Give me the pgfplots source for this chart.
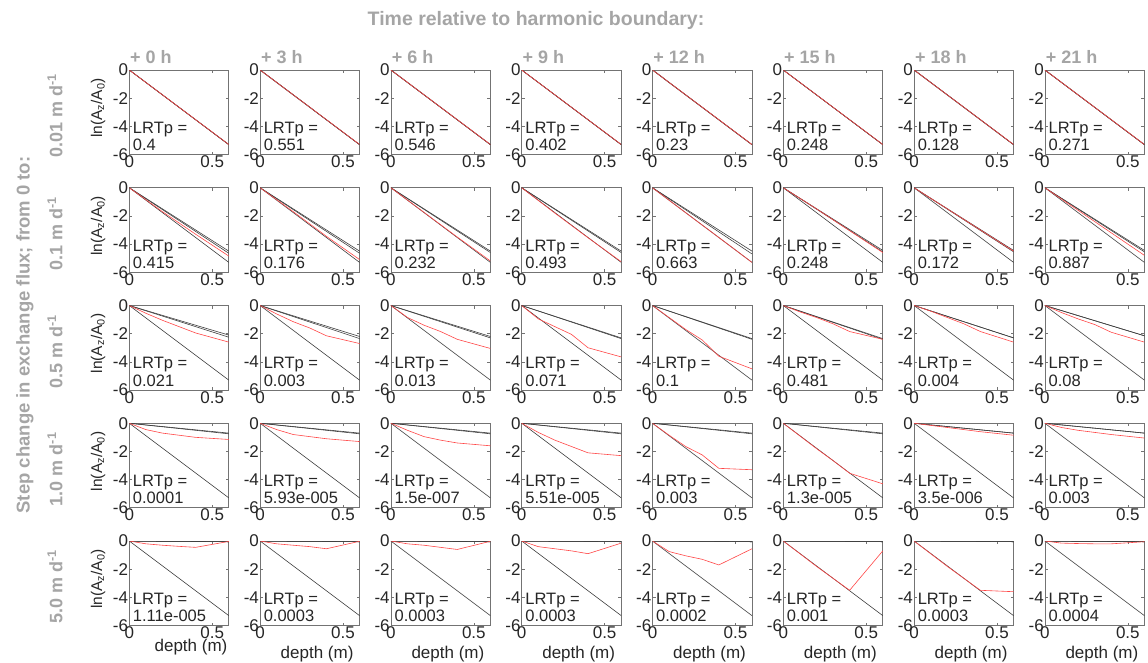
\documentclass[border=0pt]{standalone}
\usepackage{fontspec}
\setmainfont{Liberation Sans}
\usepackage{pgfplots}
\pgfplotsset{compat=1.18}
\definecolor{lbl}{RGB}{165,165,165}
\definecolor{frm}{RGB}{115,115,115}
\definecolor{redl}{RGB}{255,70,70}
\pgfplotsset{
 panel/.style={
  scale only axis, width=99.5pt, height=84.5pt, anchor=north west,
  xmin=0, xmax=0.6, ymin=-6, ymax=0,
  xtick={0,0.5}, xticklabels={0,0.5},
  ytick={-6,-4,-2,0}, yticklabels={-6,-4,-2,0},
  tick align=inside, major tick length=3pt, tick pos=both,
  axis line style={frm, line width=0.8pt},
  every tick/.style={frm, line width=0.6pt},
  tick label style={font=\fontsize{17}{17}\selectfont, text=black!85},
  yticklabel style={inner sep=1pt},
  xticklabel style={inner sep=1pt},
 },
 blk/.style={black!75, line width=0.6pt},
 rd/.style={redl, line width=0.6pt},
}
\newcommand{\panel}[6]{%
\begin{axis}[panel, at={({(129.3+130.8*#1)*1pt},{-(70+117.75*#2)*1pt})}]
\addplot[blk] coordinates {(0,0) (0.6,-5.3)};
\addplot[blk] coordinates {#3};
\addplot[blk] coordinates {#4};
\addplot[rd] coordinates {#5};
\node[anchor=base west, inner sep=0pt, font=\fontsize{16.5}{16.5}\selectfont, text=black!85] at (rel axis cs:0.035,0.251) {LRTp =};
\node[anchor=base west, inner sep=0pt, font=\fontsize{16.5}{16.5}\selectfont, text=black!85] at (rel axis cs:0.035,0.045) {#6};
\end{axis}}
\begin{document}
\begin{tikzpicture}
\path[use as bounding box] (0,0) rectangle (1148pt,-662pt);
% ---- titles
\node[font=\fontsize{19.5}{19.5}\selectfont\bfseries, text=lbl] at (536pt,-20pt) {Time relative to harmonic boundary:};
\foreach \c/\t in {0/0,1/3,2/6,3/9,4/12,5/15,6/18,7/21}{
 \node[anchor=base west, inner sep=0pt, font=\fontsize{18}{18}\selectfont\bfseries, text=lbl] at ({(130+130.8*\c)*1pt},-63.5pt) {+ \t\ h};
}
\node[rotate=90, font=\fontsize{18.5}{18.5}\selectfont\bfseries, text=lbl] at (25pt,-335pt) {Step change in exchange flux; from 0 to:};
\foreach \r/\t in {0/0.01,1/0.1,2/0.5,3/1.0,4/5.0}{
 \node[rotate=90, font=\fontsize{18}{18}\selectfont\bfseries, text=lbl] at (55pt,{-(116+117.75*\r)*1pt}) {\t\ m d\textsuperscript{-1}};
 \node[rotate=90, font=\fontsize{15.5}{15.5}\selectfont, text=black!85] at (98pt,{-(108+117.75*\r)*1pt}) {ln(A\textsubscript{z}/A\textsubscript{0})};
}
\node[font=\fontsize{17}{17}\selectfont, text=black!85] at (191pt,-647pt) {depth (m)};
\foreach \c in {1,...,7}{
 \node[font=\fontsize{17}{17}\selectfont, text=black!85] at ({(129.3+130.8*\c+57)*1pt},-654pt) {depth (m)};
}
% ---- row 1
\panel{0}{0}{(0,0) (0.6,-5.3)}{(0,0) (0.6,-5.3)}{(0,0) (0.6,-5.29)}{0.4}
\panel{1}{0}{(0,0) (0.6,-5.3)}{(0,0) (0.6,-5.3)}{(0,0) (0.6,-5.29)}{0.551}
\panel{2}{0}{(0,0) (0.6,-5.3)}{(0,0) (0.6,-5.3)}{(0,0) (0.6,-5.29)}{0.546}
\panel{3}{0}{(0,0) (0.6,-5.3)}{(0,0) (0.6,-5.3)}{(0,0) (0.6,-5.29)}{0.402}
\panel{4}{0}{(0,0) (0.6,-5.3)}{(0,0) (0.6,-5.3)}{(0,0) (0.6,-5.29)}{0.23}
\panel{5}{0}{(0,0) (0.6,-5.3)}{(0,0) (0.6,-5.3)}{(0,0) (0.6,-5.29)}{0.248}
\panel{6}{0}{(0,0) (0.6,-5.3)}{(0,0) (0.6,-5.3)}{(0,0) (0.6,-5.29)}{0.128}
\panel{7}{0}{(0,0) (0.6,-5.3)}{(0,0) (0.6,-5.3)}{(0,0) (0.6,-5.29)}{0.271}
% ---- row 2
\panel{0}{1}{(0,0) (0.6,-4.5)}{(0,0) (0.6,-4.65)}{(0,0) (0.2,-1.7) (0.4,-3.3) (0.6,-4.85)}{0.415}
\panel{1}{1}{(0,0) (0.6,-4.5)}{(0,0) (0.6,-4.65)}{(0,0) (0.2,-1.7) (0.4,-3.45) (0.6,-5.1)}{0.176}
\panel{2}{1}{(0,0) (0.6,-4.5)}{(0,0) (0.6,-4.6)}{(0,0) (0.2,-1.75) (0.4,-3.5) (0.6,-5.2)}{0.232}
\panel{3}{1}{(0,0) (0.6,-4.5)}{(0,0) (0.6,-4.6)}{(0,0) (0.2,-1.8) (0.4,-3.55) (0.6,-5.25)}{0.493}
\panel{4}{1}{(0,0) (0.6,-4.5)}{(0,0) (0.6,-4.7)}{(0,0) (0.2,-1.77) (0.4,-3.53) (0.6,-5.3)}{0.663}
\panel{5}{1}{(0,0) (0.6,-4.45)}{(0,0) (0.6,-4.55)}{(0,0) (0.2,-1.5) (0.4,-3.05) (0.6,-4.6)}{0.248}
\panel{6}{1}{(0,0) (0.6,-4.45)}{(0,0) (0.6,-4.55)}{(0,0) (0.2,-1.5) (0.4,-3.0) (0.6,-4.5)}{0.172}
\panel{7}{1}{(0,0) (0.6,-4.45)}{(0,0) (0.6,-4.55)}{(0,0) (0.2,-1.6) (0.4,-3.2) (0.6,-4.8)}{0.887}
% ---- row 3
\panel{0}{2}{(0,0) (0.6,-2.1)}{(0,0) (0.6,-2.25)}{(0,0) (0.1,-0.55) (0.2,-1.05) (0.3,-1.5) (0.4,-1.95) (0.6,-2.6)}{0.021}
\panel{1}{2}{(0,0) (0.6,-2.2)}{(0,0) (0.6,-2.35)}{(0,0) (0.1,-0.6) (0.2,-1.15) (0.3,-1.6) (0.4,-2.15) (0.6,-2.7)}{0.003}
\panel{2}{2}{(0,0) (0.6,-2.2)}{(0,0) (0.6,-2.3)}{(0,0) (0.1,-0.85) (0.2,-1.4) (0.3,-1.85) (0.4,-2.4) (0.6,-3.05)}{0.013}
\panel{3}{2}{(0,0) (0.6,-2.3)}{(0,0) (0.6,-2.35)}{(0,0) (0.1,-0.95) (0.2,-1.5) (0.3,-2.05) (0.4,-3.0) (0.6,-3.65)}{0.071}
\panel{4}{2}{(0,0) (0.6,-2.35)}{(0,0) (0.6,-2.4)}{(0,0) (0.1,-0.85) (0.2,-1.7) (0.3,-2.45) (0.4,-3.6) (0.6,-4.5)}{0.1}
\panel{5}{2}{(0,0) (0.6,-2.35)}{(0,0) (0.6,-2.4)}{(0,0) (0.1,-0.45) (0.2,-0.85) (0.3,-1.3) (0.4,-1.85) (0.6,-2.4)}{0.481}
\panel{6}{2}{(0,0) (0.6,-2.3)}{(0,0) (0.6,-2.3)}{(0,0) (0.1,-0.4) (0.2,-0.85) (0.3,-1.3) (0.4,-1.85) (0.6,-2.6)}{0.004}
\panel{7}{2}{(0,0) (0.6,-2.15)}{(0,0) (0.6,-2.15)}{(0,0) (0.1,-0.5) (0.2,-0.95) (0.3,-1.35) (0.4,-1.9) (0.6,-2.6)}{0.08}
% ---- row 4
\panel{0}{3}{(0,0) (0.6,-0.7)}{(0,0) (0.6,-0.75)}{(0,0) (0.1,-0.45) (0.2,-0.7) (0.3,-0.85) (0.4,-1.0) (0.6,-1.15)}{0.0001}
\panel{1}{3}{(0,0) (0.6,-0.7)}{(0,0) (0.6,-0.75)}{(0,0) (0.1,-0.45) (0.2,-0.8) (0.3,-0.95) (0.4,-1.1) (0.6,-1.3)}{5.93e-005}
\panel{2}{3}{(0,0) (0.6,-0.7)}{(0,0) (0.6,-0.75)}{(0,0) (0.1,-0.5) (0.2,-0.95) (0.3,-1.2) (0.4,-1.4) (0.6,-1.6)}{1.5e-007}
\panel{3}{3}{(0,0) (0.6,-0.7)}{(0,0) (0.6,-0.75)}{(0,0) (0.1,-0.65) (0.2,-1.2) (0.3,-1.65) (0.4,-2.1) (0.6,-2.3)}{5.51e-005}
\panel{4}{3}{(0,0) (0.6,-0.7)}{(0,0) (0.6,-0.75)}{(0,0) (0.1,-0.85) (0.2,-1.65) (0.3,-2.25) (0.4,-3.2) (0.6,-3.3)}{0.003}
\panel{5}{3}{(0,0) (0.6,-0.7)}{(0,0) (0.6,-0.75)}{(0,0) (0.1,-0.9) (0.2,-1.8) (0.3,-2.65) (0.4,-3.55) (0.6,-4.3)}{1.3e-005}
\panel{6}{3}{(0,0) (0.6,-0.7)}{(0,0) (0.6,-0.7)}{(0,0) (0.1,-0.15) (0.2,-0.3) (0.3,-0.45) (0.4,-0.6) (0.6,-0.85)}{3.5e-006}
\panel{7}{3}{(0,0) (0.6,-0.7)}{(0,0) (0.6,-0.7)}{(0,0) (0.1,-0.3) (0.2,-0.5) (0.3,-0.65) (0.4,-0.8) (0.6,-1.05)}{0.003}
% ---- row 5
\panel{0}{4}{(0,0) (0.6,-0.05)}{(0,0) (0.6,-0.05)}{(0,0) (0.1,-0.2) (0.2,-0.3) (0.3,-0.38) (0.4,-0.45) (0.6,-0.03)}{1.11e-005}
\panel{1}{4}{(0,0) (0.6,-0.05)}{(0,0) (0.6,-0.05)}{(0,0) (0.1,-0.2) (0.2,-0.3) (0.3,-0.4) (0.4,-0.55) (0.6,-0.02)}{0.0003}
\panel{2}{4}{(0,0) (0.6,-0.05)}{(0,0) (0.6,-0.05)}{(0,0) (0.1,-0.2) (0.2,-0.3) (0.3,-0.45) (0.4,-0.6) (0.6,-0.02)}{0.0003}
\panel{3}{4}{(0,0) (0.6,-0.05)}{(0,0) (0.6,-0.05)}{(0,0) (0.1,-0.4) (0.2,-0.55) (0.3,-0.7) (0.4,-0.9) (0.6,-0.15)}{0.0003}
\panel{4}{4}{(0,0) (0.6,-0.05)}{(0,0) (0.6,-0.05)}{(0,0) (0.1,-0.75) (0.2,-1.05) (0.3,-1.3) (0.4,-1.7) (0.6,-0.55)}{0.0002}
\panel{5}{4}{(0,0) (0.6,-0.05)}{(0,0) (0.6,-0.05)}{(0,0) (0.1,-0.9) (0.2,-1.8) (0.3,-2.65) (0.4,-3.5) (0.6,-0.7)}{0.001}
\panel{6}{4}{(0,0) (0.6,-0.05)}{(0,0) (0.6,-0.05)}{(0,0) (0.1,-0.9) (0.2,-1.8) (0.3,-2.65) (0.4,-3.5) (0.6,-3.6)}{0.0003}
\panel{7}{4}{(0,0) (0.6,-0.05)}{(0,0) (0.6,-0.05)}{(0,0) (0.1,-0.15) (0.2,-0.18) (0.3,-0.2) (0.4,-0.2) (0.6,-0.05)}{0.0004}
\end{tikzpicture}
\end{document}
